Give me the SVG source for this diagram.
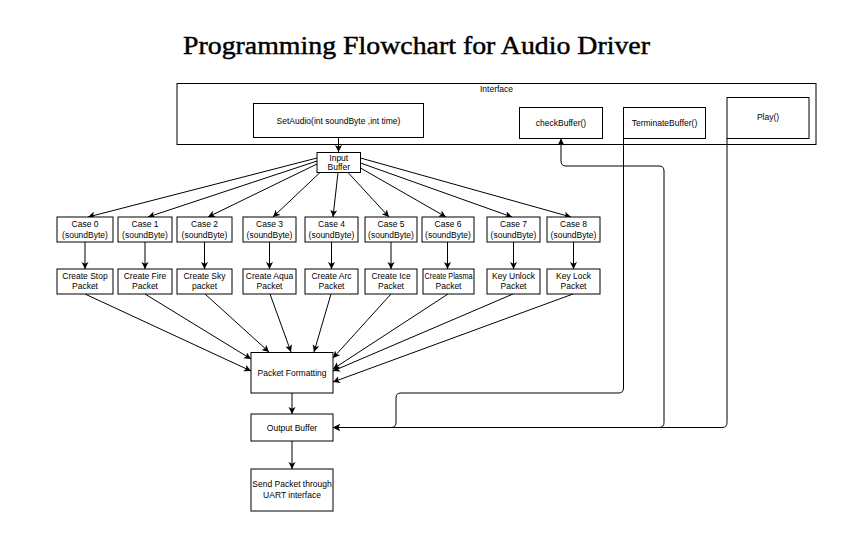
<svg xmlns="http://www.w3.org/2000/svg" width="846" height="545" viewBox="0 0 846 545">
<defs>
<marker id="arr" markerUnits="userSpaceOnUse" markerWidth="8" markerHeight="8" refX="7" refY="3.5" orient="auto">
<path d="M0,0 L7,3.5 L0,7 L1.8,3.5 z" fill="#000"/>
</marker>
<style>
.box{fill:#fff;stroke:#000;stroke-width:1}
.lbl{font-family:"Liberation Sans",Arial,sans-serif;font-size:8.5px;fill:#000;text-anchor:middle}
.ln{fill:none;stroke:#000;stroke-width:1;marker-end:url(#arr)}
</style>
</defs>
<rect width="846" height="545" fill="#fff"/>
<text x="183" y="54" font-family="'Liberation Serif','Times New Roman',serif" font-size="26" font-weight="normal" stroke="#000" stroke-width="0.45" textLength="467" lengthAdjust="spacingAndGlyphs" fill="#000">Programming Flowchart for Audio Driver</text>

<g id="interface">
<rect class="box" x="177" y="83.5" width="639" height="61"/>
<text class="lbl" x="496.5" y="92">Interface</text>
</g>
<g id="setaudio">
<rect class="box" x="253.5" y="103.5" width="170" height="34"/>
<text class="lbl" x="338.5" y="123.5">SetAudio(int soundByte ,int time)</text>
</g>
<g id="checkbuffer">
<rect class="box" x="519.5" y="107.5" width="83" height="31"/>
<text class="lbl" x="561" y="126">checkBuffer()</text>
</g>
<g id="terminatebuffer">
<rect class="box" x="623.5" y="107.5" width="82" height="31"/>
<text class="lbl" x="664.5" y="126">TerminateBuffer()</text>
</g>
<g id="play">
<rect class="box" x="727" y="97.5" width="82" height="41"/>
<text class="lbl" x="768" y="120">Play()</text>
</g>

<g id="connectors">
<path class="ln" d="M338.5,137.5 L338.5,152"/>
<path class="ln" d="M317,158 L88,217"/>
<path class="ln" d="M317,161 L148,217"/>
<path class="ln" d="M317,164 L208,217"/>
<path class="ln" d="M320,172.5 L273,217"/>
<path class="ln" d="M338,172.5 L333,217"/>
<path class="ln" d="M348,172.5 L389,217"/>
<path class="ln" d="M360.5,168 L446,217"/>
<path class="ln" d="M360.5,163 L512,217"/>
<path class="ln" d="M360.5,158 L571,217"/>

<path class="ln" d="M85,242 L85,269"/>
<path class="ln" d="M145,242 L145,269"/>
<path class="ln" d="M204.5,242 L204.5,269"/>
<path class="ln" d="M269.5,242 L269.5,269"/>
<path class="ln" d="M331.5,242 L331.5,269"/>
<path class="ln" d="M391,242 L391,269"/>
<path class="ln" d="M447.5,242 L447.5,269"/>
<path class="ln" d="M513.5,242 L513.5,269"/>
<path class="ln" d="M573.5,242 L573.5,269"/>

<path class="ln" d="M85,294 L251,371"/>
<path class="ln" d="M145,294 L251,359"/>
<path class="ln" d="M205,294 L269,352"/>
<path class="ln" d="M270,294 L291,352"/>
<path class="ln" d="M331,294 L314,352"/>
<path class="ln" d="M391,294 L333,358"/>
<path class="ln" d="M448,294 L333,369"/>
<path class="ln" d="M513,294 L333,371"/>
<path class="ln" d="M573,294 L333,382"/>

<path class="ln" d="M292,393 L292,414"/>
<path class="ln" d="M292,441 L292,469"/>

<path class="ln" d="M623.5,138.5 L623.5,388 Q623.5,393 618.5,393 L401,393 Q396,393 396,398 L396,422.5 Q396,427.5 391,427.5 L333,427.5"/>
<path class="ln" d="M727,138.5 L727,422.5 Q727,427.5 722,427.5 L333,427.5"/>
<path class="ln" d="M333,427.5 L659,427.5 Q664,427.5 664,422.5 L664,171 Q664,166 659,166 L566,166 Q561,166 561,161 L561,138.5"/>
</g>

<g id="inputbuffer">
<rect class="box" x="317" y="152.5" width="43.5" height="20"/>
<text class="lbl" x="338.75" y="160.5">Input</text>
<text class="lbl" x="338.75" y="170">Buffer</text>
</g>

<g id="case0"><rect class="box" x="57" y="217" width="56" height="25"/><text class="lbl" x="85" y="226.5">Case 0</text><text class="lbl" x="85" y="237.5">(soundByte)</text></g>
<g id="case1"><rect class="box" x="118" y="217" width="54" height="25"/><text class="lbl" x="145" y="226.5">Case 1</text><text class="lbl" x="145" y="237.5">(soundByte)</text></g>
<g id="case2"><rect class="box" x="177" y="217" width="55" height="25"/><text class="lbl" x="204.5" y="226.5">Case 2</text><text class="lbl" x="204.5" y="237.5">(soundByte)</text></g>
<g id="case3"><rect class="box" x="243" y="217" width="53" height="25"/><text class="lbl" x="269.5" y="226.5">Case 3</text><text class="lbl" x="269.5" y="237.5">(soundByte)</text></g>
<g id="case4"><rect class="box" x="305" y="217" width="53" height="25"/><text class="lbl" x="331.5" y="226.5">Case 4</text><text class="lbl" x="331.5" y="237.5">(soundByte)</text></g>
<g id="case5"><rect class="box" x="365" y="217" width="52" height="25"/><text class="lbl" x="391" y="226.5">Case 5</text><text class="lbl" x="391" y="237.5">(soundByte)</text></g>
<g id="case6"><rect class="box" x="422" y="217" width="52" height="25"/><text class="lbl" x="448" y="226.5">Case 6</text><text class="lbl" x="448" y="237.5">(soundByte)</text></g>
<g id="case7"><rect class="box" x="487" y="217" width="53" height="25"/><text class="lbl" x="513.5" y="226.5">Case 7</text><text class="lbl" x="513.5" y="237.5">(soundByte)</text></g>
<g id="case8"><rect class="box" x="547" y="217" width="53" height="25"/><text class="lbl" x="573.5" y="226.5">Case 8</text><text class="lbl" x="573.5" y="237.5">(soundByte)</text></g>

<g id="stop"><rect class="box" x="57" y="269" width="56" height="25"/><text class="lbl" x="85" y="278.5">Create Stop</text><text class="lbl" x="85" y="289">Packet</text></g>
<g id="fire"><rect class="box" x="118" y="269" width="54" height="25"/><text class="lbl" x="145" y="278.5">Create Fire</text><text class="lbl" x="145" y="289">Packet</text></g>
<g id="sky"><rect class="box" x="177" y="269" width="55" height="25"/><text class="lbl" x="204.5" y="278.5">Create Sky</text><text class="lbl" x="204.5" y="289">packet</text></g>
<g id="aqua"><rect class="box" x="243" y="269" width="53" height="25"/><text class="lbl" x="269.5" y="278.5">Create Aqua</text><text class="lbl" x="269.5" y="289">Packet</text></g>
<g id="arc"><rect class="box" x="305" y="269" width="53" height="25"/><text class="lbl" x="331.5" y="278.5">Create Arc</text><text class="lbl" x="331.5" y="289">Packet</text></g>
<g id="ice"><rect class="box" x="365" y="269" width="52" height="25"/><text class="lbl" x="391" y="278.5">Create Ice</text><text class="lbl" x="391" y="289">Packet</text></g>
<g id="plasma"><rect class="box" x="423" y="269" width="51" height="25"/><text class="lbl" x="448.5" y="278.5" textLength="48" lengthAdjust="spacingAndGlyphs">Create Plasma</text><text class="lbl" x="448.5" y="289">Packet</text></g>
<g id="unlock"><rect class="box" x="487" y="269" width="53" height="25"/><text class="lbl" x="513.5" y="278.5">Key Unlock</text><text class="lbl" x="513.5" y="289">Packet</text></g>
<g id="lock"><rect class="box" x="547" y="269" width="53" height="25"/><text class="lbl" x="573.5" y="278.5">Key Lock</text><text class="lbl" x="573.5" y="289">Packet</text></g>

<g id="formatting"><rect class="box" x="251" y="352.5" width="82" height="40.5"/><text class="lbl" x="292" y="375.5">Packet Formatting</text></g>
<g id="output"><rect class="box" x="251" y="414" width="82" height="27"/><text class="lbl" x="292" y="430.5">Output Buffer</text></g>
<g id="send"><rect class="box" x="251" y="469" width="82" height="42"/><text class="lbl" x="292" y="487">Send Packet through</text><text class="lbl" x="292" y="497.5">UART interface</text></g>
</svg>
